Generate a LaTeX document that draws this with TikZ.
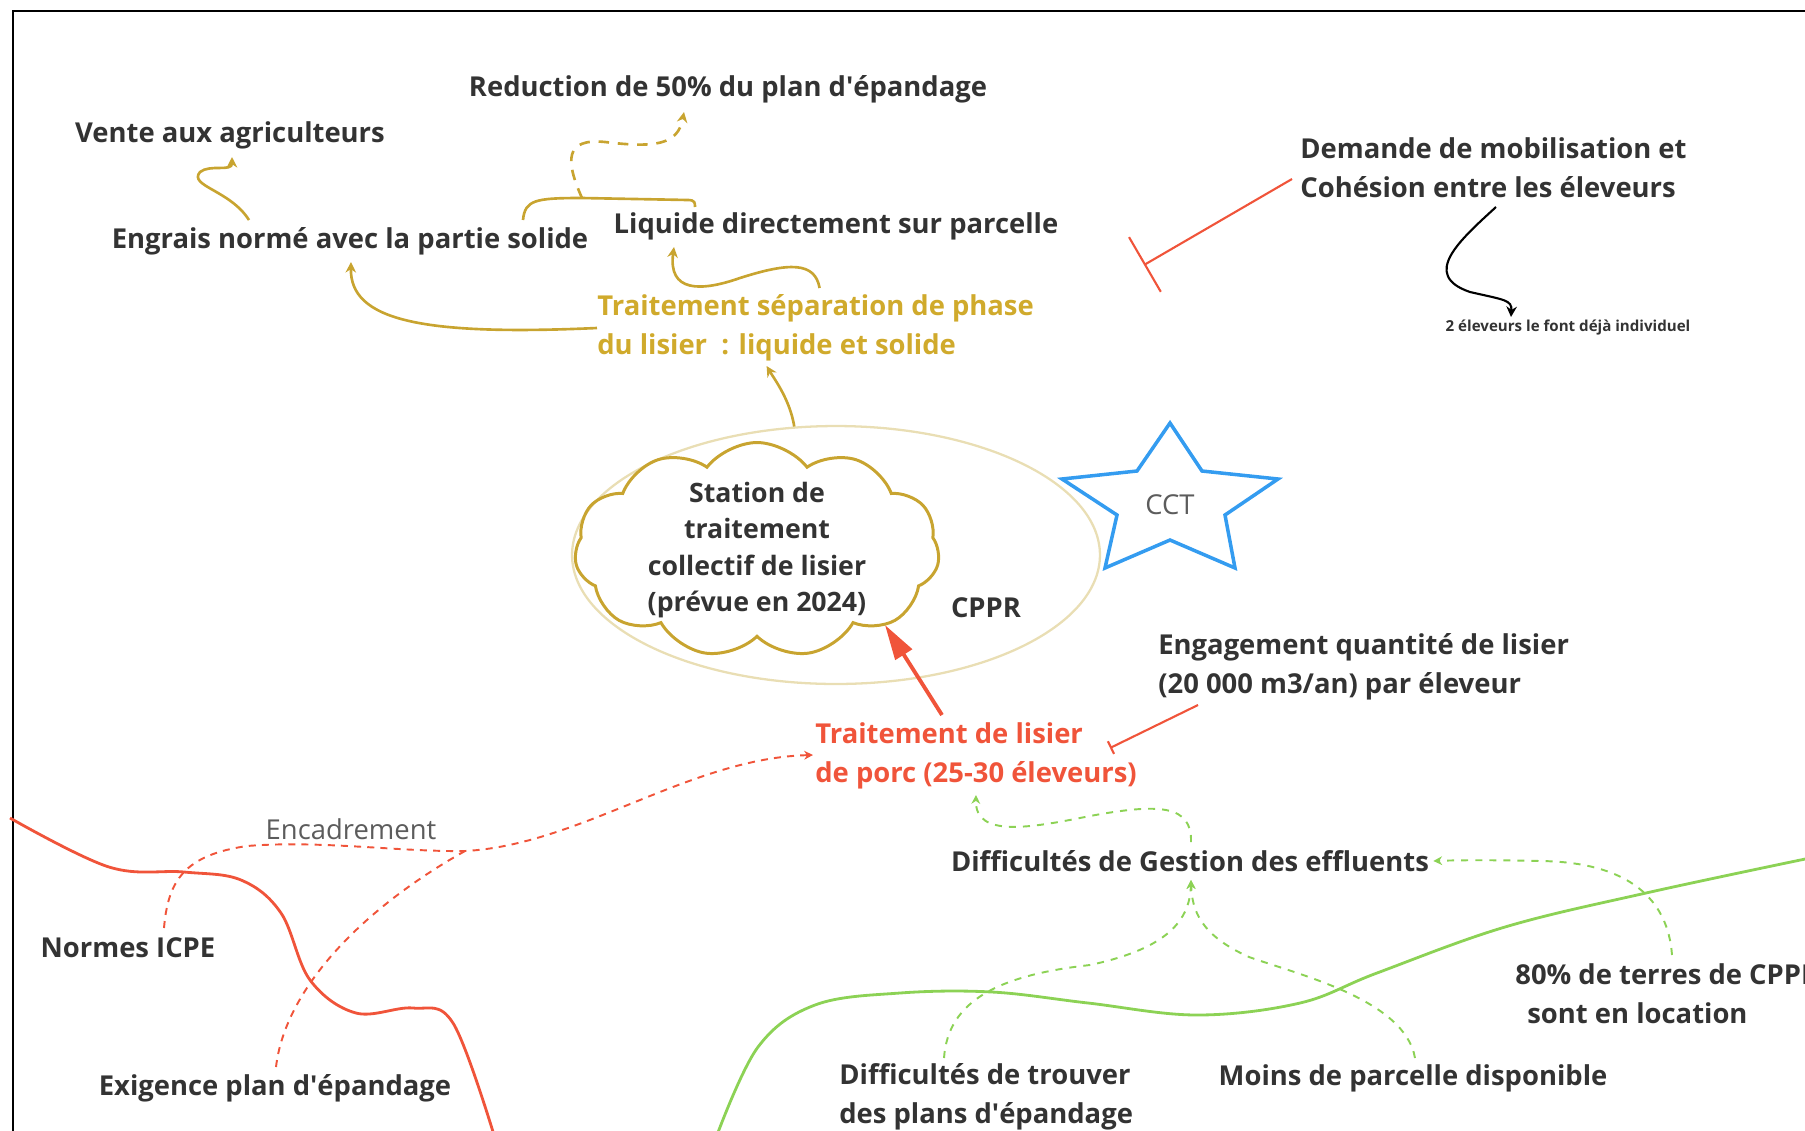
\documentclass[tikz,border=0pt]{standalone}
\usepackage{fontspec}
\setmainfont{Open Sans}
\usetikzlibrary{shapes.geometric,shapes.symbols,arrows.meta,calc}
\definecolor{ink}{RGB}{51,51,51}
\definecolor{gold}{RGB}{208,170,44}
\definecolor{goldline}{RGB}{200,164,48}
\definecolor{tan}{RGB}{233,222,180}
\definecolor{redo}{RGB}{240,84,58}
\definecolor{greeno}{RGB}{140,210,85}
\definecolor{blueo}{RGB}{52,156,240}
\newcommand\apos{\textquotesingle}

\begin{document}
\begin{tikzpicture}[x=0.02cm,y=-0.02cm,
	every node/.style={font=\fontsize{15.6}{22}\selectfont\bfseries, text=ink, inner sep=0pt},
	goldtxt/.style={text=gold},
	redtxt/.style={text=redo},
	thin txt/.style={font=\fontsize{15.6}{22}\selectfont, text=ink!80},
	goldarr/.style={draw=goldline, line width=1.5pt, -{Stealth[length=6pt,width=6pt]}},
	redarr/.style={draw=redo, line width=1.1pt, dash pattern=on 4pt off 3.5pt, -{Stealth[length=5pt,width=5pt]}},
	greenarr/.style={draw=greeno, line width=1.1pt, dash pattern=on 4pt off 4pt, -{Stealth[length=5pt,width=5pt]}},
	stopper/.style={draw=redo, line width=1.2pt, -{Bar[width=#1]}}]
	\useasboundingbox (0,0) rectangle (1805,1130);
	\draw[line width=1.6pt] (13,1135) -- (13,11) -- (1810,11);

	\node (reduc) at (728,89) {Reduction de 50\% du plan d\apos épandage};
	\node (vente) at (230,135) {Vente aux agriculteurs};
	\node (engrais) at (350,241) {Engrais normé avec la partie solide};
	\node (liquide) at (836,226) {Liquide directement sur parcelle};
	\node[goldtxt, anchor=west, align=left] (sep) at (597,328) {Traitement séparation de phase\\du lisier\ \ : liquide et solide};
	\node[anchor=west, align=left] (demande) at (1300,168) {Demande de mobilisation et\\Cohésion entre les éleveurs};
	\node[font=\fontsize{8.6}{10}\selectfont\bfseries] (deux) at (1568,328) {2 éleveurs le font déjà individuel};

	\node[draw=tan, line width=1.3pt, ellipse, minimum width=10.56cm, minimum height=5.16cm] (zone) at (836,555) {};
	\node[draw=goldline, line width=1.7pt, cloud, cloud puffs=11, cloud puff arc=105, aspect=1.7, inner sep=-0.5cm, minimum width=7.3cm, minimum height=4.3cm, align=center, font=\fontsize{15.2}{20.7}\selectfont\bfseries] (cloud) at (757,550) {Station de\\traitement\\collectif de lisier\\(prévue en 2024)};
	\node (cpprlab) at (986,608) {CPPR};
	\draw[blueo, line width=2pt, line join=miter] (1170,423) -- (1202,471) -- (1278,479) -- (1225,515) -- (1235,568) -- (1170,540) -- (1105,568) -- (1117,515) -- (1062,479) -- (1137,471) -- cycle;
	\node[thin txt] (cct) at (1170,505) {CCT};

	\node[anchor=west, align=left] (engag) at (1158,667) {Engagement quantité de lisier\\(20 000 m3/an) par éleveur};
	\node[redtxt, anchor=west, align=left] (trlis) at (815,756) {Traitement de lisier\\de porc (25-30 éleveurs)};
	\node (gestion) at (1190,861) {Difficultés de Gestion des effluents};
	\node[thin txt] (encad) at (351,829) {Encadrement};
	\node (normes) at (128,948) {Normes ICPE};
	\node (exig) at (275,1088) {Exigence plan d\apos épandage};
	\node[anchor=west, align=left] (trouver) at (839,1097) {Difficultés de trouver\\des plans d\apos épandage};
	\node (moins) at (1413,1078) {Moins de parcelle disponible};
	\node[anchor=west, align=left] (terres) at (1515,994) {80\% de terres de CPPR\\\hspace*{0.24cm}sont en location};

	\coordinate (bracemid) at (582,198);
	\coordinate (stopA) at (1144,265);
	\coordinate (joinR) at (465,851);

	\draw[goldarr] (zone.108) .. controls (790,400) and (775,380) .. ($(sep)+(-49,38)$);
	\draw[goldarr] (sep.west) .. controls (420,336) and (350,320) .. ($(engrais)+(1,21)$);
	\draw[goldarr] ($(sep)+(4,-40)$) .. controls (815,262) and (790,262) .. (740,278) .. controls (700,292) and (668,292) .. ($(liquide)+(-162,21)$);
	\draw[goldarr] ($(engrais)+(-101,-21)$) .. controls (230,190) and (188,186) .. (200,172) .. controls (210,164) and (232,172) .. ($(vente)+(2,22)$);
	\draw[draw=goldline, line width=1.5pt] ($(engrais)+(173,-21)$) .. controls (525,200) and (535,198) .. (bracemid) -- (688,200) .. controls (695,200) and (695,203) .. ($(liquide)+(-141,-19)$);
	\draw[goldarr, dash pattern=on 6pt off 5pt] (bracemid) .. controls (565,160) and (565,138) .. (605,142) .. controls (655,148) and (678,145) .. ($(reduc)+(-44,23)$);

	\draw[stopper=36pt] ($(demande.west)+(-8,11)$) -- (stopA);
	\draw[line width=1.2pt, -{Stealth[length=6pt,width=6pt]}] ($(demande.west)+(196,39)$) .. controls (1460,240) and (1420,275) .. (1470,292) .. controls (1505,300) and (1512,300) .. ($(deux)+(-57,-11)$);

	\draw[draw=redo, line width=2.2pt, -{Triangle[length=20pt,width=11pt]}] ($(trlis.west)+(127,-41)$) -- ($(cloud)+(128,75)$);
	\draw[stopper=8pt] ($(engag.west)+(40,38)$) -- ($(trlis.west)+(295,-8)$);
	\draw[redarr] ($(normes)+(36,-20)$) .. controls (168,880) and (185,855) .. (247,846) .. controls (320,840) and (400,852) .. (joinR) .. controls (580,845) and (690,758) .. ($(trlis.west)+(-2,-1)$);
	\draw[redarr, -] ($(exig)+(1,-21)$) .. controls (285,990) and (360,910) .. (joinR);
	\draw[redo, line width=1.6pt] plot[smooth, tension=0.6] coordinates {(10,818) (109,867) (184,872) (241,880) (281,913) (310,980) (356,1013) (413,1008) (453,1023) (494,1135)};

	\draw[greeno, line width=1.6pt] plot[smooth, tension=0.6] coordinates {(717,1135) (758,1047) (815,1005) (900,993) (992,992) (1088,1003) (1197,1015) (1300,1003) (1377,973) (1505,927) (1646,893) (1810,858)};
	\draw[greenarr] ($(gestion)+(1,-19)$) .. controls (1192,805) and (1160,803) .. (1090,816) .. controls (1030,828) and (975,838) .. ($(trlis.west)+(161,39)$);
	\draw[greenarr] ($(trouver.west)+(105,-39)$) .. controls (948,1000) and (1000,975) .. (1090,965) .. controls (1160,950) and (1190,925) .. ($(gestion)+(1,19)$);
	\draw[greenarr] ($(moins)+(2,-20)$) .. controls (1405,1000) and (1300,975) .. (1249,957) .. controls (1200,935) and (1192,910) .. ($(gestion)+(1,19)$);
	\draw[greenarr] ($(terres.west)+(157,-39)$) .. controls (1668,900) and (1630,862) .. (1540,861) .. controls (1500,860) and (1460,860) .. ($(gestion.east)+(4,0)$);
\end{tikzpicture}
\end{document}
